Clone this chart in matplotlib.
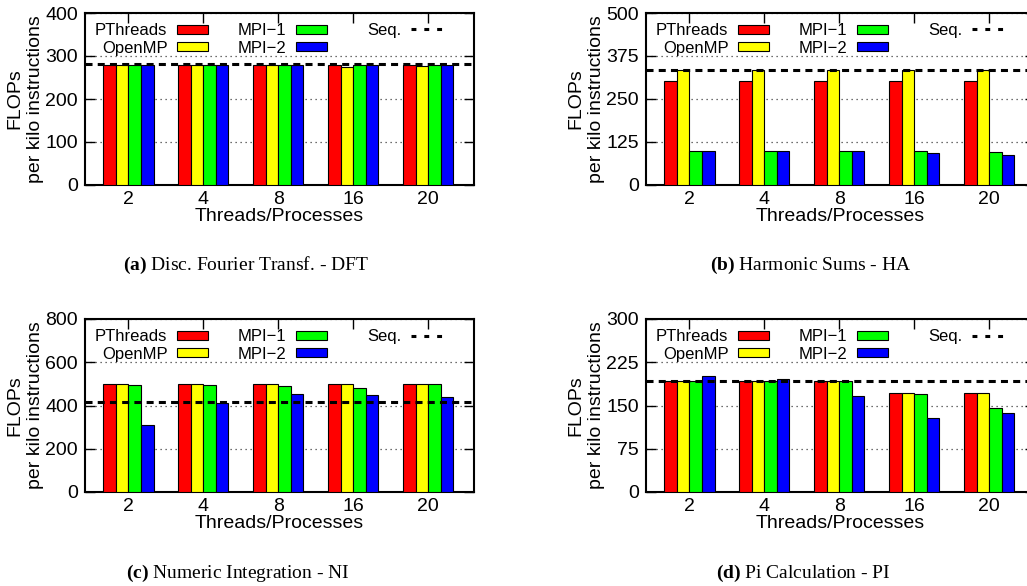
import matplotlib
matplotlib.use("Agg")
import matplotlib.pyplot as plt
from matplotlib.lines import Line2D
import numpy as np

plt.rcParams["font.family"] = ["Liberation Sans", "DejaVu Sans"]
plt.rcParams["mathtext.fontset"] = "custom"
plt.rcParams["mathtext.rm"] = "Liberation Serif"
plt.rcParams["mathtext.bf"] = "Liberation Serif:bold"

# data
threads = ["2", "4", "8", "16", "20"]
series_names = ["PThreads", "OpenMP", "MPI\u22121", "MPI\u22122"]
series_colors = ["#ff0000", "#ffff00", "#00ff00", "#0000ff"]

dft_pthreads = [280, 280, 280, 280, 280]
dft_openmp = [280, 280, 280, 275, 276]
dft_mpi1 = [280, 280, 280, 279, 278]
dft_mpi2 = [280, 280, 280, 280, 280]
dft_seq = 281

ha_pthreads = [301, 301, 301, 301, 301]
ha_openmp = [334, 334, 334, 334, 334]
ha_mpi1 = [99, 99, 100, 100, 97]
ha_mpi2 = [99, 99, 100, 93, 86]
ha_seq = 334

ni_pthreads = [498, 498, 499, 499, 499]
ni_openmp = [498, 498, 499, 499, 499]
ni_mpi1 = [497, 493, 490, 481, 499]
ni_mpi2 = [308, 410, 452, 448, 439]
ni_seq = 416

pi_pthreads = [193, 193, 192.5, 171.5, 171.5]
pi_openmp = [193, 193, 192.5, 171.5, 171.5]
pi_mpi1 = [193, 193, 192.5, 169.5, 146]
pi_mpi2 = [202, 195.5, 166, 128, 137]
pi_seq = 193

panels = [
    ("a", "Disc. Fourier Transf. - DFT", [dft_pthreads, dft_openmp, dft_mpi1, dft_mpi2], dft_seq, 400, [0, 100, 200, 300, 400]),
    ("b", "Harmonic Sums - HA", [ha_pthreads, ha_openmp, ha_mpi1, ha_mpi2], ha_seq, 500, [0, 125, 250, 375, 500]),
    ("c", "Numeric Integration - NI", [ni_pthreads, ni_openmp, ni_mpi1, ni_mpi2], ni_seq, 800, [0, 200, 400, 600, 800]),
    ("d", "Pi Calculation - PI", [pi_pthreads, pi_openmp, pi_mpi1, pi_mpi2], pi_seq, 300, [0, 75, 150, 225, 300]),
]

W, H = 1027, 586
fig = plt.figure(figsize=(W / 100, H / 100), dpi=100)

# axes boxes in pixels: left, top, right, bottom
boxes = [(85, 13, 474, 185), (646, 13, 1035, 185), (85, 319, 474, 492), (646, 319, 1035, 492)]
captions_xy = [(246, 265), (811, 265), (238, 573), (803, 573)]

bar_w = 0.167
x = np.arange(len(threads))

for (tag, title, vals, seq, ymax, yt), (l, t, r, b), (cx, cy) in zip(panels, boxes, captions_xy):
    ax = fig.add_axes([l / W, 1 - b / H, (r - l) / W, (b - t) / H])
    handles = []
    for i, (v, c, name) in enumerate(zip(vals, series_colors, series_names)):
        h = ax.bar(x + (i - 1.5) * bar_w, v, bar_w, color=c, edgecolor="black",
                   linewidth=0.8, label=name, zorder=3)
        handles.append(h)
    ax.axhline(seq, color="black", lw=2.2, linestyle=(0, (2.3, 1.7)), zorder=4)
    seq_proxy = Line2D([], [], color="black", lw=2.2, linestyle=(0, (1.6, 2.6)), label="Seq.")

    ax.set_xlim(-0.58, 4.61)
    ax.set_ylim(0, ymax)
    ax.set_yticks(yt)
    ax.set_xticks(x)
    ax.set_xticklabels(threads)
    ax.tick_params(direction="in", length=7, width=1, labelsize=14, top=True, right=True)
    ax.tick_params(axis="y", pad=5)
    ax.tick_params(axis="x", pad=4)
    for s in ax.spines.values():
        s.set_linewidth(1.5)
    ax.grid(True, axis="y", linestyle=(0, (1, 3)), color="0.25", lw=0.9, zorder=0)
    ax.set_axisbelow(True)
    ax.set_xlabel("Threads/Processes", fontsize=14, labelpad=0)
    ax.set_ylabel("FLOPs\nper kilo instructions", fontsize=14, labelpad=1, linespacing=1.25)

    leg1 = ax.legend(handles=handles, loc="upper left", bbox_to_anchor=(0.026, 0.94), ncol=2,
                     markerfirst=False, frameon=False, fontsize=12, borderpad=0,
                     handlelength=1.85, handleheight=0.45, handletextpad=0.6,
                     columnspacing=1.75, labelspacing=0.15, borderaxespad=0)
    ax.add_artist(leg1)
    ax.legend(handles=[seq_proxy], loc="upper right", bbox_to_anchor=(0.918, 0.94),
              markerfirst=False, frameon=False, fontsize=12, borderpad=0,
              handlelength=1.85, handletextpad=0.6, borderaxespad=0)

    fig.text(cx / W, 1 - cy / H, r"$\mathbf{(" + tag + r")}$ " + title, ha="center", va="center",
             fontsize=14, family="Liberation Serif")

fig.savefig("out.png", dpi=100)
